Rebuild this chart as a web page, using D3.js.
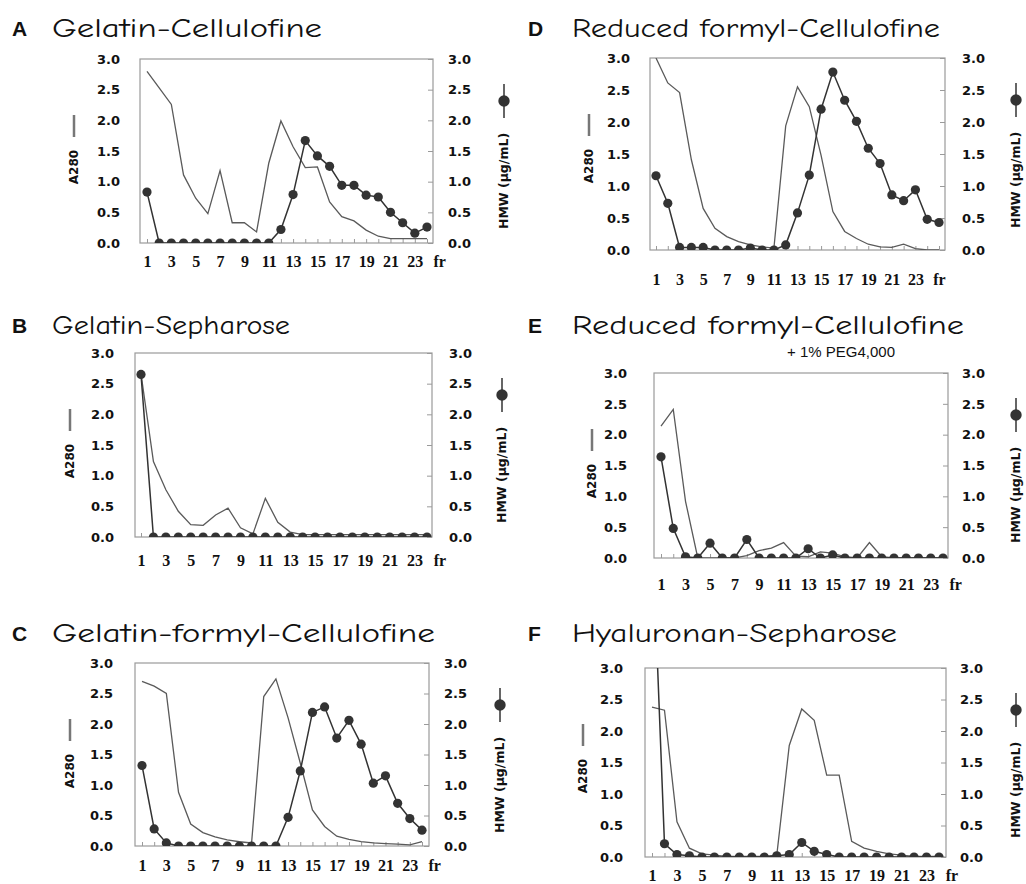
<!DOCTYPE html>
<html><head><meta charset="utf-8">
<script src="https://cdn.jsdelivr.net/npm/d3@7"></script>
<style>body{margin:0;background:#fff}</style>
</head><body>
<svg id="chart" width="1026" height="884"></svg>
<script>
// ---------- data ----------
const xTickLabels = ["1","3","5","7","9","11","13","15","17","19","21","23","fr"];
const xTickPositions = [1,3,5,7,9,11,13,15,17,19,21,23,25];
const yTickValues = [0,0.5,1,1.5,2,2.5,3];
const yTickLabels = ["0.0","0.5","1.0","1.5","2.0","2.5","3.0"];

const panelLetters = ["A","B","C","D","E","F"];
const panelTitles = ["Gelatin-Cellulofine","Gelatin-Sepharose","Gelatin-formyl-Cellulofine",
                     "Reduced formyl-Cellulofine","Reduced formyl-Cellulofine","Hyaluronan-Sepharose"];
const subtitleE = "+ 1% PEG4,000";
const leftAxisTitle = "A280";
const rightAxisTitle = "HMW (\u03BCg/mL)";

const a280A = [2.80,2.53,2.26,1.11,0.73,0.48,1.18,0.33,0.33,0.18,1.30,1.99,1.57,1.23,1.24,0.67,0.43,0.36,0.21,0.11,0.07,0.07,0.07,0.07];
const hmwA  = [0.83,0,0,0,0,0,0,0,0,0,0,0.22,0.79,1.67,1.42,1.25,0.94,0.94,0.78,0.75,0.50,0.33,0.16,0.26];

const a280B = [2.66,1.23,0.77,0.42,0.20,0.19,0.36,0.47,0.15,0.05,0.63,0.24,0.08,0.04,0.04,0.04,0.04,0.04,0.04,0.04,0.04,0.04,0.04,0.04];
const hmwB  = [2.65,0,0,0,0,0,0,0,0,0,0,0,0,0,0,0,0,0,0,0,0,0,0,0];

const a280C = [2.70,2.62,2.50,0.88,0.36,0.22,0.15,0.10,0.07,0.05,2.45,2.74,2.10,1.36,0.59,0.32,0.16,0.11,0.07,0.05,0.04,0.03,0.02,0.07];
const hmwC  = [1.32,0.28,0.05,0,0,0,0,0,0,0,0,0,0.47,1.23,2.19,2.28,1.77,2.06,1.67,1.03,1.15,0.70,0.45,0.26];

const a280D = [3.00,2.61,2.46,1.41,0.65,0.34,0.21,0.13,0.08,0.05,0.03,1.94,2.55,2.24,1.48,0.60,0.29,0.18,0.09,0.05,0.04,0.09,0.02,0,0];
const hmwD  = [1.16,0.73,0.04,0.04,0.04,0,0,0,0.03,0,0,0.08,0.58,1.17,2.20,2.78,2.34,2.01,1.59,1.35,0.86,0.77,0.94,0.48,0.43];

const a280E = [2.14,2.41,0.92,0,0,0,0,0.04,0.12,0.16,0.25,0.03,0.02,0.10,0.08,0.02,0,0.25,0.02,0,0,0,0,0];
const hmwE  = [1.64,0.48,0.02,0,0.24,0,0,0.30,0,0,0,0,0.15,0,0.05,0,0,0,0,0,0,0,0,0];

const a280F = [2.38,2.33,0.56,0.14,0.05,0.03,0.01,0.01,0.01,0.01,0.03,1.77,2.35,2.17,1.30,1.30,0.25,0.14,0.09,0.05,0.03,0.01,0.01,0.01];
const hmwF  = [5.30,0.21,0.04,0.02,0,0,0,0,0,0,0.02,0.04,0.23,0.09,0.04,0,0,0,0,0,0,0,0,0];

const a280Series = [a280A,a280B,a280C,a280D,a280E,a280F];
const hmwSeries  = [hmwA,hmwB,hmwC,hmwD,hmwE,hmwF];

// ---------- layout ----------
const layouts = [
 {x1:147,xN:427,y0:243,y3:59, bL:140,bR:433,xlab:267,lR:120,rL:448,ax:74, hx:504, lx:12, tx:52, ty:37, tw:270},
 {x1:141,xN:427,y0:537,y3:353,bL:135,bR:432,xlab:566,lR:114,rL:449,ax:70, hx:502, lx:12, tx:52, ty:334,tw:238},
 {x1:142,xN:422,y0:846,y3:663,bL:135,bR:429,xlab:871,lR:113,rL:444,ax:70, hx:500, lx:12, tx:52, ty:642,tw:383},
 {x1:656,xN:939,y0:250,y3:58, bL:650,bR:945,xlab:285,lR:630,rL:962,ax:589,hx:1016,lx:528,tx:572,ty:37, tw:368},
 {x1:661,xN:943,y0:558,y3:373,bL:654,bR:948,xlab:590,lR:627,rL:962,ax:592,hx:1016,lx:528,tx:572,ty:334,tw:392},
 {x1:652,xN:939,y0:857,y3:668,bL:645,bR:946,xlab:881,lR:623,rL:960,ax:583,hx:1016,lx:528,tx:572,ty:642,tw:325}
];

const svg = d3.select("#chart");
const tickFont = "DejaVu Sans, Verdana, sans-serif";
const xFont = "Liberation Serif, serif";
const titleFont = "'Comic Sans MS','Comic Neue','Open Sans',sans-serif";

function drawPanel(i){
  const L = layouts[i];
  const a280 = a280Series[i], hmw = hmwSeries[i];
  const n = a280.length;
  const x = d3.scaleLinear().domain([1,n]).range([L.x1,L.xN]);
  const y = d3.scaleLinear().domain([0,3]).range([L.y0,L.y3]);
  const g = svg.append("g");

  // titles
  g.append("text").attr("x",L.lx).attr("y",L.ty-1)
    .attr("font-family","Liberation Sans, Arial, sans-serif").attr("font-weight","bold")
    .attr("font-size",21).attr("fill","#111").text(panelLetters[i]);
  g.append("text").attr("x",L.tx).attr("y",L.ty)
    .attr("font-family",titleFont).attr("font-size",27).attr("fill","#111")
    .attr("textLength",L.tw).attr("lengthAdjust","spacingAndGlyphs").text(panelTitles[i]);

  // clip
  const cid = "clip"+i;
  g.append("clipPath").attr("id",cid).append("rect")
    .attr("x",L.bL).attr("y",L.y3).attr("width",L.bR-L.bL).attr("height",L.y0-L.y3);

  // box
  g.append("rect").attr("x",L.bL).attr("y",L.y3).attr("width",L.bR-L.bL).attr("height",L.y0-L.y3)
    .attr("fill","none").attr("stroke","#9a9a9a").attr("stroke-width",1.2);

  // bottom inward ticks
  const fracs = a280.map((d,k)=>k+1);
  const bt = g.append("g").attr("transform",`translate(0,${L.y0})`)
    .call(d3.axisBottom(x).tickValues(fracs).tickSize(-4).tickFormat(""));
  bt.select(".domain").remove();
  bt.selectAll("line").attr("stroke","#9a9a9a");

  // x labels
  const xl = g.append("g").attr("transform",`translate(0,${L.xlab})`)
    .call(d3.axisBottom(x).tickValues(xTickPositions).tickSize(0).tickPadding(0)
      .tickFormat((d,k)=>xTickLabels[k]));
  xl.select(".domain").remove();
  xl.selectAll("text").attr("dy",0).attr("y",0).attr("font-family",xFont).attr("font-weight","bold")
    .attr("font-size",16).attr("fill","#111");

  // right inward ticks
  const rt = g.append("g").attr("transform",`translate(${L.bR},0)`)
    .call(d3.axisRight(y).tickValues(yTickValues).tickSize(-5).tickFormat(""));
  rt.select(".domain").remove();
  rt.selectAll("line").attr("stroke","#9a9a9a");

  // left labels
  const la = g.append("g").attr("transform",`translate(${L.bL},0)`)
    .call(d3.axisLeft(y).tickValues(yTickValues).tickSize(0).tickPadding(L.bL-L.lR)
      .tickFormat((d,k)=>yTickLabels[k]));
  la.select(".domain").remove();
  la.selectAll("text").attr("font-family",tickFont).attr("font-weight","bold").attr("font-size",13).attr("fill","#111");

  // right labels
  const ra = g.append("g").attr("transform",`translate(${L.bR},0)`)
    .call(d3.axisRight(y).tickValues(yTickValues).tickSize(0).tickPadding(L.rL-L.bR)
      .tickFormat((d,k)=>yTickLabels[k]));
  ra.select(".domain").remove();
  ra.selectAll("text").attr("font-family",tickFont).attr("font-weight","bold").attr("font-size",13).attr("fill","#111");

  // series
  const plot = g.append("g").attr("clip-path",`url(#${cid})`);
  const line = d3.line().x((d,k)=>x(k+1)).y(d=>y(d));
  plot.append("path").datum(a280).attr("d",line).attr("fill","none")
    .attr("stroke","#5a5a5a").attr("stroke-width",1.3);
  plot.append("path").datum(hmw).attr("d",line).attr("fill","none")
    .attr("stroke","#333").attr("stroke-width",1.5);
  plot.selectAll("circle").data(hmw).join("circle")
    .attr("cx",(d,k)=>x(k+1)).attr("cy",d=>y(d)).attr("r",4.6).attr("fill","#333");

  // left axis title with legend bar
  g.append("line").attr("x1",L.ax).attr("x2",L.ax).attr("y1",L.y3+56).attr("y2",L.y3+78)
    .attr("stroke","#777").attr("stroke-width",2.5);
  g.append("text").attr("transform",`translate(${L.ax+4},${L.y3+108}) rotate(-90)`)
    .attr("text-anchor","middle").attr("font-family",tickFont).attr("font-weight","bold")
    .attr("font-size",12).attr("fill","#111").text(leftAxisTitle);

  // right axis title with legend marker
  g.append("line").attr("x1",L.hx).attr("x2",L.hx).attr("y1",L.y3+25).attr("y2",L.y3+59)
    .attr("stroke","#333").attr("stroke-width",1.5);
  g.append("circle").attr("cx",L.hx).attr("cy",L.y3+42).attr("r",5.7).attr("fill","#333");
  g.append("text").attr("transform",`translate(${L.hx+4},${L.y3+122}) rotate(-90)`)
    .attr("text-anchor","middle").attr("font-family",tickFont).attr("font-weight","bold")
    .attr("font-size",12.5).attr("fill","#111").text(rightAxisTitle);
}

for (let i=0;i<6;i++) drawPanel(i);

svg.append("text").attr("x",787).attr("y",357).attr("font-family","Liberation Sans, Arial, sans-serif")
  .attr("font-size",15).attr("fill","#111").text(subtitleE);
</script>
</body></html>
